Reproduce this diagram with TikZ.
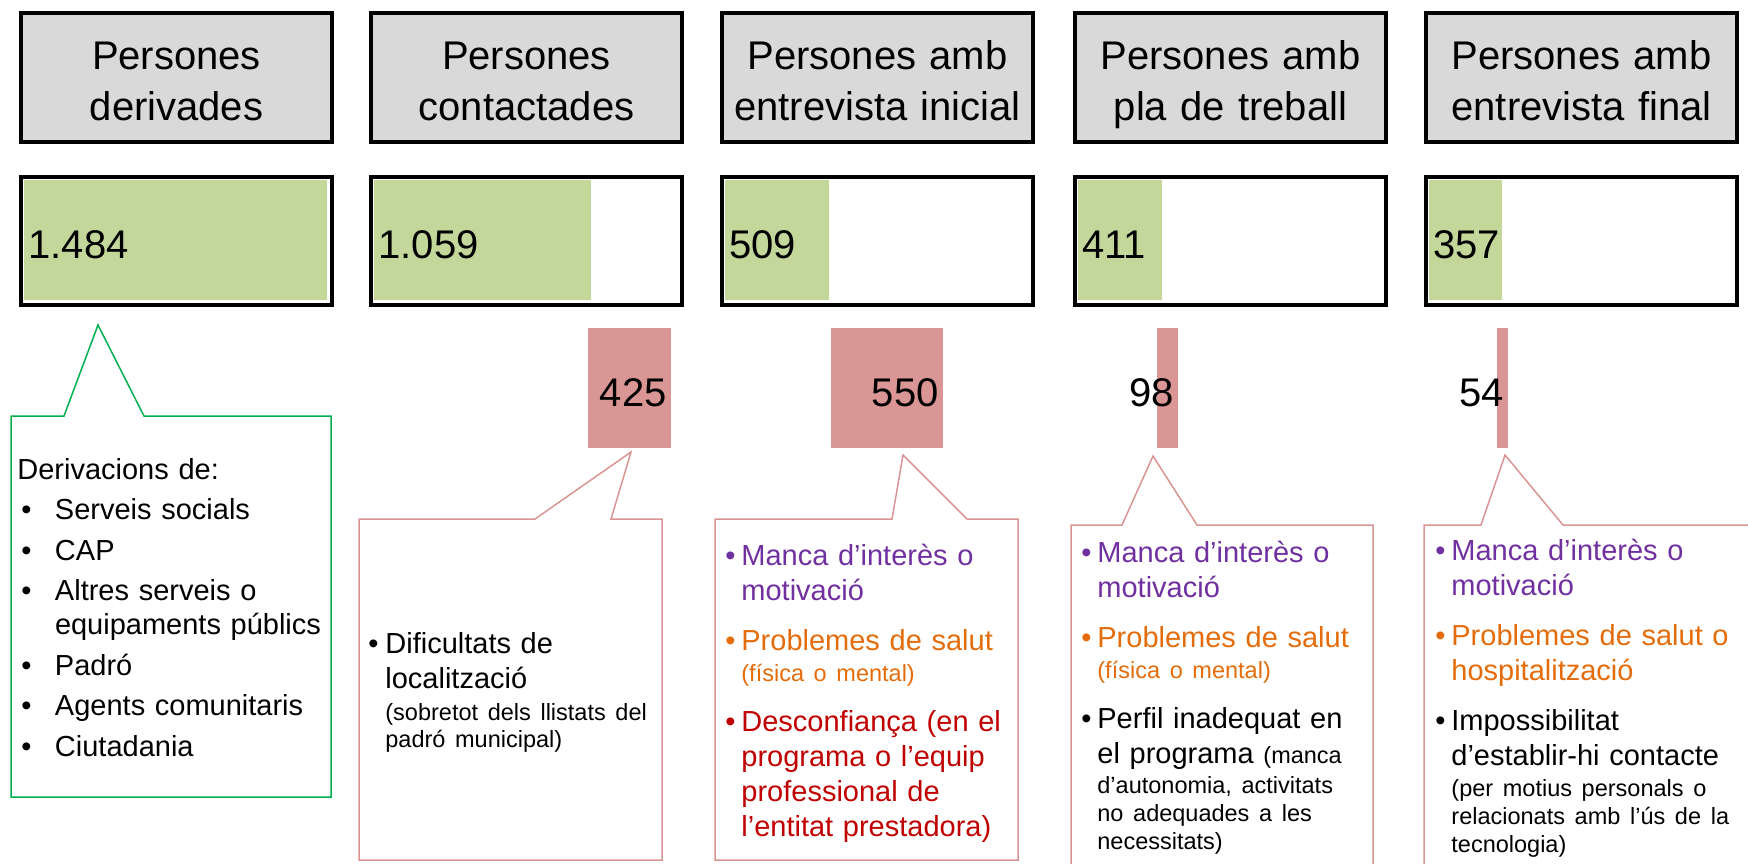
\documentclass[tikz,border=0pt]{standalone}
\usepackage{fontspec}
\setmainfont{Liberation Sans}
\usepackage{xcolor}

\definecolor{headgrey}{HTML}{D9D9D9}
\definecolor{bargreen}{HTML}{C4D79B}
\definecolor{barred}{HTML}{DA9694}
\definecolor{linegreen}{HTML}{00B050}
\definecolor{linepink}{HTML}{D99594}
\definecolor{txtpurple}{HTML}{7030A0}
\definecolor{txtorange}{HTML}{E46C0A}
\definecolor{txtred}{HTML}{C00000}

% bullet item with hanging indent: [bullet shift]{indent}{colour}{text}
\newcommand{\bul}[4][0pt]{\hangindent=#2\hangafter=1\leavevmode{\color{#3}\makebox[#2][l]{\hspace*{#1}\textbullet}#4}\par}
% line break with extra vertical space
\newcommand{\nl}[1][0pt]{\vadjust{\vskip#1}\hfil\break}
\newcommand{\smtxt}{\fontsize{11.75pt}{17.5pt}\selectfont}

\begin{document}
\begin{tikzpicture}[x=0.5pt, y=-0.5pt,
    headbox/.style={draw, line width=1.7pt, fill=headgrey, minimum width=155.5pt, minimum height=64.5pt, inner sep=0pt},
    barbox/.style={draw, line width=1.7pt, fill=white, minimum width=155.5pt, minimum height=64pt, inner sep=0pt},
    headtext/.style={font=\fontsize{20pt}{25.5pt}\selectfont, text width=150pt, align=center, anchor=base, inner sep=0pt},
    numtext/.style={font=\fontsize{20pt}{24pt}\selectfont, anchor=base west, inner sep=0pt},
    calltext/.style={font=\fontsize{14.5pt}{17.5pt}\selectfont, text width=190pt, align=left, anchor=base west, inner sep=0pt},
    callout/.style={line width=0.75pt}]
  \useasboundingbox (0,0) rectangle (1748,863);

  % Header boxes and bars with the number of persons
  \foreach \i/\xl/\n/\lab/\ta/\tb in {1/20/1484/1.484/Persones/derivades,
      2/370/1059/1.059/Persones/contactades,
      3/721/509/509/Persones amb/entrevista inicial,
      4/1074/411/411/Persones amb/pla de treball,
      5/1425/357/357/Persones amb/entrevista final} {
    \node[headbox] (head\i) at (\xl+156.5,77.5) {};
    \node[headtext] (headlab\i) at (\xl+156.5,69) {\ta\\\tb};
    \node[barbox] (bar\i) at (\xl+156.5,241) {};
    \fill[bargreen] (\xl+4,180) rectangle (\xl+4+\n*0.2045,300);
    \node[numtext] (num\i) at (\xl+8,258) {\lab};
  }

  % Drop-outs between the stages
  \foreach \i/\ra/\rb/\lab in {2/588/671/425, 3/831/943/550, 4/1157/1178/98, 5/1497/1508/54} {
    \fill[barred] (\ra,328) rectangle (\rb,448);
    \node[numtext, anchor=base east] (drop\i) at (\rb-4,406) {\lab};
  }

  % Callouts with pointer
  \foreach \L/\T/\R/\B/\pa/\pb/\px/\py/\col in {11/416/331/797/64/144/98/325/linegreen,
      359/519/662/860/535/611/631/452/linepink,
      715/519/1018/860/892/967/903/455/linepink,
      1071/525/1373/880/1122/1197/1153/456/linepink,
      1424/525/1770/880/1481/1563/1505/455/linepink} {
    \draw[callout, draw=\col] (\L,\T) -- (\pa,\T) -- (\px,\py) -- (\pb,\T) -- (\R,\T)
      -- (\R,\B) -- (\L,\B) -- cycle;
  }

  % Texts of the callouts
  \node[calltext, font=\fontsize{14.5pt}{17pt}\selectfont] (derivtxt) at (17,479) {%
    Derivacions de:\par\vskip3.25pt
    \bul[2pt]{18.8pt}{black}{Serveis socials}\vskip3.25pt
    \bul[2pt]{18.8pt}{black}{CAP}\vskip3.25pt
    \bul[2pt]{18.8pt}{black}{Altres serveis o\nl equipaments públics}\vskip3.25pt
    \bul[2pt]{18.8pt}{black}{Padró}\vskip3.25pt
    \bul[2pt]{18.8pt}{black}{Agents comunitaris}\vskip3.25pt
    \bul[2pt]{18.8pt}{black}{Ciutadania}};

  \node[calltext] (contacttxt) at (368,653) {%
    \bul{8.5pt}{black}{Dificultats de\nl localització\nl[-1.5pt]{\smtxt (sobretot dels llistats del\nl[-4pt] padró municipal)}}};

  \node[calltext] (inicialtxt) at (725,565) {%
    \bul{8pt}{txtpurple}{Manca d’interès o\nl motivació}\vskip7.5pt
    \bul{8pt}{txtorange}{Problemes de salut\nl[-2pt]{\smtxt (física o mental)}}\vskip7.5pt
    \bul{8pt}{txtred}{Desconfiança (en el\nl programa o l’equip\nl professional de\nl l’entitat prestadora)}};

  \node[calltext] (platxt) at (1081,562) {%
    \bul{8pt}{txtpurple}{Manca d’interès o\nl motivació}\vskip7.5pt
    \bul{8pt}{txtorange}{Problemes de salut\nl[-2pt]{\smtxt (física o mental)}}\vskip7.5pt
    \bul{8pt}{black}{Perfil inadequat en\nl el programa {\smtxt (manca\nl[-2.5pt] d’autonomia, activitats\nl[-3.5pt] no adequades a les\nl[-3.5pt] necessitats)}}};

  \node[calltext] (finaltxt) at (1435,560) {%
    \bul{8pt}{txtpurple}{Manca d’interès o\nl motivació}\vskip7.5pt
    \bul{8pt}{txtorange}{Problemes de salut o\nl hospitalització}\vskip7.5pt
    \bul{8pt}{black}{Impossibilitat\nl d’establir-hi contacte\nl[-2pt]{\smtxt (per motius personals o\nl[-3.5pt] relacionats amb l’ús de la\nl[-3.5pt] tecnologia)}}};
\end{tikzpicture}
\end{document}
